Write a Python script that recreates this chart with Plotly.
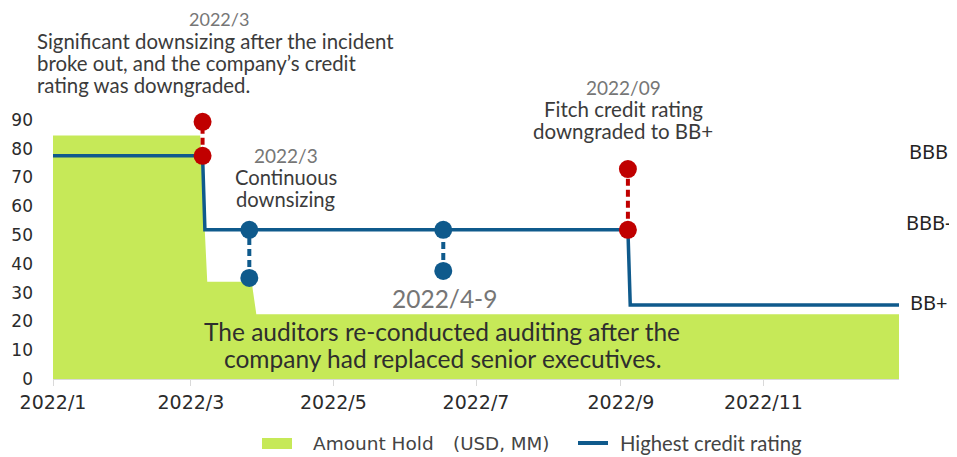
import plotly.graph_objects as go

# ---------------- data ----------------
hold_dates = ["2022-01-01", "2022-03-05", "2022-03-08", "2022-03-27", "2022-03-29", "2022-12-29"]
hold_values = [84.5, 84.5, 33.8, 33.8, 22.5, 22.5]

rating_dates = ["2022-01-01", "2022-03-06", "2022-03-07", "2022-09-04", "2022-09-05", "2022-12-29"]
rating_values = [77.5, 77.5, 51.8, 51.8, 25.7, 25.7]

rating_levels = [77.5, 51.8, 25.7]
rating_labels = ["BBB", "BBB-", "BB+"]

red_event_dates = ["2022-03-06", "2022-09-04"]
red_event_low = [77.5, 51.8]
red_event_high = [89.3, 72.9]

blue_event_dates = ["2022-03-26", "2022-06-17"]
blue_event_high = [51.8, 51.8]
blue_event_low = [35.1, 37.5]

x_tick_vals = ["2022-01-01", "2022-03-01", "2022-05-01", "2022-07-01", "2022-09-01", "2022-11-01"]
x_tick_text = ["2022/1", "2022/3", "2022/5", "2022/7", "2022/9", "2022/11"]
y_tick_vals = [0, 10, 20, 30, 40, 50, 60, 70, 80, 90]

note1_title = "2022/3"
note1_lines = ["Significant downsizing after the incident",
               "broke out, and the company’s credit",
               "rating was downgraded."]
note2_lines = ["2022/3", "Continuous", "downsizing"]
note3_lines = ["2022/09", "Fitch credit rating", "downgraded to BB+"]
note4_title = "2022/4-9"
note4_lines = ["The auditors re-conducted auditing after the",
               "company had replaced senior executives."]

# ---------------- styles ----------------
GREEN = "#C6E958"
BLUE = "#0F5A8C"
RED = "#C00000"
DARK = "#3B3B3B"
GRAY = "#767676"
TXT_FONT = "Lato"
AX_FONT = "DejaVu Sans"
LABEL_NUDGE = [1.5, 2.5, 0.8]

OFF = 8  # default page body margin
W, H = 957 - OFF, 457 - OFF
L, R, T, B = 53, 899, 114, 379  # plot edges in page pixels


def px(x):
    return (x - L) / (R - L)


def py(y):
    return (B - y) / (B - T)


fig = go.Figure()

fig.add_trace(go.Scatter(
    x=hold_dates, y=hold_values, mode="lines", fill="tozeroy",
    fillcolor=GREEN, line=dict(width=0, color=GREEN), hoverinfo="skip",
    name="Amount Hold (USD, MM)", showlegend=False))

fig.add_trace(go.Scatter(
    x=rating_dates, y=rating_values, mode="lines",
    line=dict(width=3.5, color=BLUE), name="Highest credit rating",
    showlegend=False))

# dashed connectors
for d, lo, hi in zip(red_event_dates, red_event_low, red_event_high):
    fig.add_trace(go.Scatter(x=[d, d], y=[lo, hi], mode="lines",
                             line=dict(color=RED, width=4, dash="7px,4px"),
                             showlegend=False, hoverinfo="skip"))
for d, lo, hi in zip(blue_event_dates, blue_event_low, blue_event_high):
    fig.add_trace(go.Scatter(x=[d, d], y=[lo, hi], mode="lines",
                             line=dict(color=BLUE, width=4, dash="7px,4px"),
                             showlegend=False, hoverinfo="skip"))

fig.add_trace(go.Scatter(
    x=red_event_dates + red_event_dates, y=red_event_low + red_event_high,
    mode="markers", marker=dict(size=18, color=RED), showlegend=False,
    cliponaxis=False))
fig.add_trace(go.Scatter(
    x=blue_event_dates + blue_event_dates, y=blue_event_high + blue_event_low,
    mode="markers", marker=dict(size=18, color=BLUE), showlegend=False,
    cliponaxis=False))

ann = []


def add_text(text, x, y, size, color=DARK, xanchor="center", font=TXT_FONT):
    ann.append(dict(text=text, x=px(x), y=py(y), xref="paper", yref="paper",
                    xanchor=xanchor, yanchor="middle", showarrow=False, borderpad=0,
                    font=dict(family=font, size=size, color=color)))


# note 1
add_text(note1_title, 219, 19.5, 18, GRAY)
for i, line in enumerate(note1_lines):
    add_text(line, 36, 41 + 22 * i, 20.4, DARK, xanchor="left")
# note 2
for i, line in enumerate(note2_lines):
    add_text(line, 286, 155 + 22 * i, 19 if i == 0 else 20.2, GRAY if i == 0 else DARK)
# note 3
for i, line in enumerate(note3_lines):
    add_text(line, 623, 87 + 22 * i, 19 if i == 0 else 20.5, GRAY if i == 0 else DARK)
# note 4
add_text(note4_title, 444, 298, 24.5, GRAY)
for i, line in enumerate(note4_lines):
    add_text(line, 442, 331 + 27 * i, 24.5, "#2E2E2E")

# rating level labels
for lvl, lab, nud in zip(rating_levels, rating_labels, LABEL_NUDGE):
    ann.append(dict(text=lab, x=px(928), y=lvl + nud, xref="paper", yref="y",
                    xanchor="center", yanchor="middle", showarrow=False,
                    font=dict(family="Noto Sans", size=20, color="#222222")))

# legend (manual)
add_text("Amount Hold", 312, 443.5, 18.5, "#444444", xanchor="left", font=AX_FONT)
add_text("(USD, MM)", 452, 443.5, 18.3, "#444444", xanchor="left", font=AX_FONT)
add_text("Highest credit rating", 619, 443, 20.3, "#444444", xanchor="left")

shapes = [
    dict(type="rect", xref="paper", yref="paper", x0=px(262), x1=px(292), y0=py(449), y1=py(438),
         fillcolor=GREEN, line=dict(width=0)),
    dict(type="line", xref="paper", yref="paper", x0=px(578), x1=px(608), y0=py(443), y1=py(443),
         line=dict(color=BLUE, width=4)),
]

fig.update_layout(
    width=W, height=H,
    margin=dict(l=L - OFF, r=957 - R, t=T - OFF, b=457 - B, autoexpand=False),
    paper_bgcolor="white", plot_bgcolor="white",
    showlegend=False,
    annotations=ann, shapes=shapes,
    xaxis=dict(range=["2022-01-01", "2022-12-29"], tickvals=x_tick_vals, ticktext=x_tick_text,
               automargin=False,
               showgrid=False, zeroline=False, showline=True, linecolor="#D9D9D9", linewidth=1,
               ticks="outside", ticklen=6, tickcolor="#D9D9D9",
               tickfont=dict(family=AX_FONT, size=19, color="#2B2B2B")),
    yaxis=dict(range=[0, 92], tickvals=y_tick_vals, showgrid=False, zeroline=False,
               automargin=False,
               showline=False, ticks="", ticklabelstandoff=19,
               tickfont=dict(family=AX_FONT, size=17, color="#2B2B2B")),
)

fig.write_html("out.html")
